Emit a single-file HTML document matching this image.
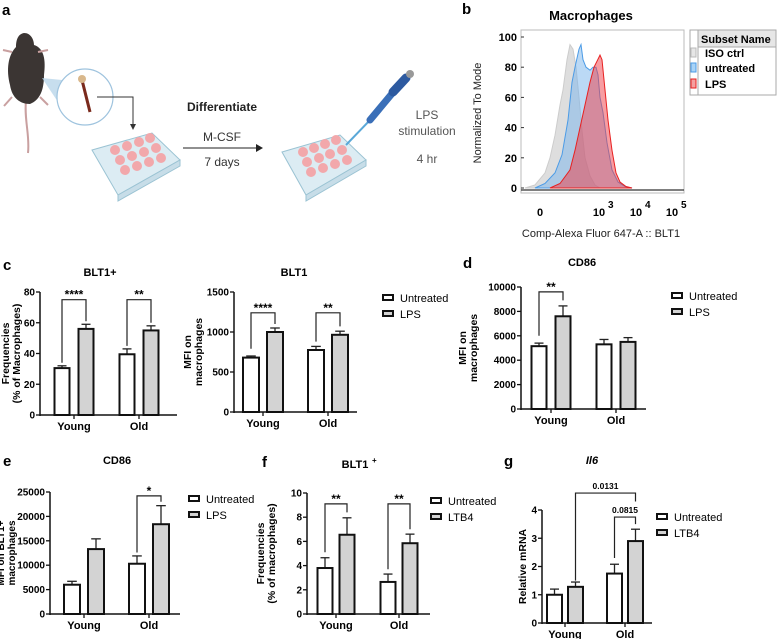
<!DOCTYPE html>
<html><head><meta charset="utf-8"><style>
html,body{margin:0;padding:0;background:#fff;}
svg{display:block;font-family:"Liberation Sans",Arial,sans-serif;}
.b{font-weight:bold}
</style></head><body>
<svg id="fig" width="778" height="639" viewBox="0 0 778 639" xmlns="http://www.w3.org/2000/svg">
<g font-weight="bold" font-size="15">
<text x="2" y="15">a</text>
<text x="462" y="14">b</text>
<text x="3" y="270">c</text>
<text x="463" y="268">d</text>
<text x="3" y="466">e</text>
<text x="262" y="467">f</text>
<text x="504" y="466">g</text>
</g>
<g>
<path d="M26 100 C24 120 30 135 28 153" stroke="#c9a0a0" stroke-width="2" fill="none"/>
<path d="M24 33 C31 33 34 40 34 45 C44 48 46 60 44 75 C44 90 40 100 30 104 C20 104 12 98 10 85 C6 70 8 55 16 47 C16 40 18 34 24 33 Z" fill="#3b3533"/>
<path d="M12 52 L3 50 M38 52 L48 50 M12 97 L4 106 M40 97 L48 105" stroke="#c9a0a0" stroke-width="2"/>
<polygon points="42,78 62,80 62,108" fill="#b9d6ea" opacity="0.8"/>
<circle cx="85" cy="97" r="28" fill="#fff" stroke="#9ec3de" stroke-width="1.2"/>
<path d="M82 80 L90 112" stroke="#7a2a1c" stroke-width="3"/>
<circle cx="82" cy="79" r="4" fill="#d9b88c"/>
<path d="M97 97 L133 97 L133 125" stroke="#333" stroke-width="1" fill="none"/>
<polygon points="130,124 136,124 133,130" fill="#333"/>
<g>
<polygon points="92,150 152,133 180,160 118,195" fill="#dcecf3" stroke="#9bc3d3"/>
<polygon points="118,195 180,160 180,166 118,201" fill="#c7dde8" stroke="#9bc3d3"/>
<g fill="#f2a8ab"><circle cx="115" cy="150" r="5"/><circle cx="127" cy="146" r="5"/><circle cx="139" cy="142" r="5"/><circle cx="150" cy="138" r="5"/><circle cx="120" cy="160" r="5"/><circle cx="132" cy="156" r="5"/><circle cx="144" cy="152" r="5"/><circle cx="156" cy="148" r="5"/><circle cx="125" cy="170" r="5"/><circle cx="137" cy="166" r="5"/><circle cx="149" cy="162" r="5"/><circle cx="161" cy="158" r="5"/></g>
</g>
<text x="222" y="111" class="b" font-size="12" text-anchor="middle" fill="#222">Differentiate</text>
<text x="222" y="141" font-size="12" text-anchor="middle" fill="#333">M-CSF</text>
<path d="M183 148 L257 148" stroke="#222" stroke-width="1"/>
<polygon points="256,144 263,148 256,152" fill="#222"/>
<text x="222" y="166" font-size="12" text-anchor="middle" fill="#333">7 days</text>
<g>
<polygon points="282,152 340,135 366,160 306,195" fill="#dcecf3" stroke="#9bc3d3"/>
<polygon points="306,195 366,160 366,166 306,201" fill="#c7dde8" stroke="#9bc3d3"/>
<g fill="#f2a8ab"><circle cx="303" cy="152" r="5"/><circle cx="314" cy="148" r="5"/><circle cx="325" cy="144" r="5"/><circle cx="336" cy="140" r="5"/><circle cx="307" cy="162" r="5"/><circle cx="319" cy="158" r="5"/><circle cx="330" cy="154" r="5"/><circle cx="342" cy="150" r="5"/><circle cx="311" cy="172" r="5"/><circle cx="323" cy="168" r="5"/><circle cx="335" cy="164" r="5"/><circle cx="347" cy="160" r="5"/></g>
</g>
<path d="M346 145 L372 118" stroke="#5aa8d8" stroke-width="2"/>
<path d="M370 120 L395 90" stroke="#3a6fb8" stroke-width="7" stroke-linecap="round"/>
<path d="M393 92 L406 78" stroke="#2d5aa0" stroke-width="9" stroke-linecap="round"/>
<circle cx="410" cy="74" r="4" fill="#999"/>
<text x="427" y="119" font-size="12" text-anchor="middle" fill="#555">LPS</text>
<text x="427" y="135" font-size="12" text-anchor="middle" fill="#555">stimulation</text>
<text x="427" y="163" font-size="12" text-anchor="middle" fill="#555">4 hr</text>
</g>
<g id="hist"></g>
<g id="charts"></g>
</svg>
<script>
// ---------- histogram data (panel b) ----------
const histChannels = [0, 163];
const isoX = [4,14,24,29,34,39,42,46,49,52,55,58,61,64,69,74,79];
const isoY = [0,2,10,20,35,55,65,85,95,92,80,60,38,20,8,2,0];
const untX = [14,24,34,41,47,51,54,58,60,62,65,69,72,75,77,79,82,86,91,97,104,111];
const untY = [0,3,10,22,45,70,80,92,95,85,80,78,80,80,75,60,50,30,12,4,1,0];
const lpsX = [29,39,49,54,59,64,69,73,76,79,81,84,87,91,95,99,105,111];
const lpsY = [0,3,12,25,40,55,70,80,84,88,85,65,45,25,10,4,1,0];
const histYTicks = [0,20,40,60,80,100];

// ---------- bar chart data ----------
const groups = ["Young","Old"];
const c1Untreated = [30.5, 39.5], c1UntreatedErr = [32, 43];
const c1LPS = [56, 55], c1LPSErr = [59, 58];
const c1Ticks = [0,20,40,60,80];
const c2Untreated = [680, 775], c2UntreatedErr = [700, 820];
const c2LPS = [1000, 965], c2LPSErr = [1050, 1010];
const c2Ticks = [0,500,1000,1500];
const dUntreated = [5150, 5300], dUntreatedErr = [5400, 5700];
const dLPS = [7600, 5500], dLPSErr = [8450, 5850];
const dTicks = [0,2000,4000,6000,8000,10000];
const eUntreated = [6000, 10300], eUntreatedErr = [6700, 11900];
const eLPS = [13300, 18400], eLPSErr = [15400, 22200];
const eTicks = [0,5000,10000,15000,20000,25000];
const fUntreated = [3.8, 2.65], fUntreatedErr = [4.65, 3.3];
const fLTB4 = [6.55, 5.85], fLTB4Err = [7.95, 6.6];
const fTicks = [0,2,4,6,8,10];
const gUntreated = [1.0, 1.75], gUntreatedErr = [1.2, 2.08];
const gLTB4 = [1.28, 2.9], gLTB4Err = [1.45, 3.32];
const gTicks = [0,1,2,3,4];

const NS="http://www.w3.org/2000/svg";
function mk(parent, tag, attrs, txt){const e=document.createElementNS(NS,tag);for(const k in attrs)e.setAttribute(k,attrs[k]);if(txt!==undefined)e.textContent=txt;parent.appendChild(e);return e;}

// ---- histogram ----
(function(){
  const g=document.getElementById('hist');
  const L=521,R=684,T=30,B=193,y0=188,y100=37;
  const sx=v=>L+(v-histChannels[0])/(histChannels[1]-histChannels[0])*(R-L);
  const sy=v=>y0+(y100-y0)*v/100;
  const t=mk(g,'text',{x:591,y:20,'font-size':13,'font-weight':'bold','text-anchor':'middle'},'Macrophages');
  
  
  const box=mk(g,'rect',{x:L,y:T,width:R-L,height:B-T,fill:'#fff',stroke:'#bbb'});
  
  
  function area(xs,ys,fill,stroke,name){
    let d='M'+sx(xs[0])+' '+sy(0);
    for(let i=0;i<xs.length;i++)d+=' L'+sx(xs[i]).toFixed(1)+' '+sy(ys[i]).toFixed(1);
    d+=' L'+sx(xs[xs.length-1])+' '+sy(0)+'Z';
    const p=mk(g,'path',{d:d,fill:fill,stroke:stroke,'stroke-width':1});
    
    
  }
  area(isoX,isoY,'rgba(200,200,200,0.6)','#ccc','iso-ctrl-histogram');
  area(untX,untY,'rgba(120,180,235,0.5)','#4b9be6','untreated-histogram');
  area(lpsX,lpsY,'rgba(240,60,70,0.5)','#e82020','lps-histogram');
  mk(g,'line',{x1:L,y1:B-3,x2:R,y2:B-3,stroke:'#333','stroke-width':1.2});
  histYTicks.forEach(v=>{
    const tx=mk(g,'text',{x:L-4,y:sy(v)+4,'font-size':11,'font-weight':'bold','text-anchor':'end'},String(v));
    
    
    mk(g,'line',{x1:L,x2:L+3,y1:sy(v),y2:sy(v),stroke:'#333'});
  });
  const xl=[["0",540,""],["10",599,"3"],["10",636,"4"],["10",672,"5"]];
  xl.forEach(a=>{const tx=mk(g,'text',{x:a[1],y:216,'font-size':11,'font-weight':'bold','text-anchor':'middle'},a[0]);
    
    
    if(a[2])mk(g,'text',{x:a[1]+9,y:208,'font-size':10,'font-weight':'bold'},a[2]);});
  const xt=mk(g,'text',{x:601,y:237,'font-size':11,'text-anchor':'middle',fill:'#222'},'Comp-Alexa Fluor 647-A :: BLT1');
  
  
  const yt=mk(g,'text',{x:0,y:0,'font-size':11,'text-anchor':'middle',transform:'translate(481,113) rotate(-90)',fill:'#222'},'Normalized To Mode');
  
  
  const lg=mk(g,'g',{});
  
  
  mk(lg,'rect',{x:690,y:30,width:86,height:65,fill:'#fff',stroke:'#aaa'});
  mk(lg,'rect',{x:698,y:30,width:78,height:17,fill:'#e6e6e6',stroke:'#aaa'});
  mk(lg,'line',{x1:698,y1:30,x2:698,y2:95,stroke:'#aaa'});
  mk(lg,'text',{x:701,y:43,'font-size':11,'font-weight':'bold'},'Subset Name');
  [['ISO ctrl','#e6e6e6','#bbb',57],['untreated','#a9d3f6','#4b9be6',72],['LPS','#f5a0a0','#e82020',88]].forEach(r=>{
    mk(lg,'rect',{x:691,y:r[3]-9,width:5,height:9,fill:r[1],stroke:r[2]});
    const tx=mk(lg,'text',{x:705,y:r[3],'font-size':11,'font-weight':'bold'},r[0]);
    
    
  });
})();

// ---- bar charts ----
function barChart(cfg){
  const root=document.getElementById('charts');
  const g=mk(root,'g',{});
  
  
  const max=cfg.ticks[cfg.ticks.length-1];
  const sy=v=>cfg.y0+(cfg.yTop-cfg.y0)*v/max;
  const sx=(gi,si)=>cfg.centers[gi]+(si===0?-cfg.off:cfg.off);
  const tt=mk(g,'text',{x:cfg.title[1],y:cfg.title[2],'font-size':11,'font-weight':'bold','text-anchor':'middle','font-style':cfg.italic?'italic':'normal'},cfg.title[0]);
  
  
  if(cfg.sup){mk(g,'text',{x:cfg.title[1]+17,y:cfg.title[2]-5,'font-size':8,'font-weight':'bold'},'+');}
  const series=[[cfg.s0,cfg.e0,'#fff'],[cfg.s1,cfg.e1,'#d3d3d3']];
  series.forEach((s,si)=>{
    s[0].forEach((v,gi)=>{
      const cx=sx(gi,si),w=cfg.bw;
      const top=sy(v),et=sy(s[1][gi]);
      const el=mk(g,'line',{x1:cx,x2:cx,y1:top,y2:et,stroke:'#222','stroke-width':1.3});
      
      
      mk(g,'line',{x1:cx-w*0.3,x2:cx+w*0.3,y1:et,y2:et,stroke:'#222','stroke-width':1.3});
      const r=mk(g,'rect',{x:cx-w/2,y:top,width:w,height:cfg.y0-top,fill:s[2],stroke:'#111','stroke-width':2});
      
      
    });
  });
  const ya=mk(g,'line',{x1:cfg.x0,x2:cfg.x0,y1:cfg.yTop,y2:cfg.y0+1,stroke:'#111','stroke-width':1.5});
  
  
  const xa=mk(g,'line',{x1:cfg.x0,x2:cfg.x1,y1:cfg.y0,y2:cfg.y0,stroke:'#111','stroke-width':1.5});
  
  
  cfg.ticks.forEach(v=>{
    mk(g,'line',{x1:cfg.x0-4,x2:cfg.x0,y1:sy(v),y2:sy(v),stroke:'#111','stroke-width':1.3});
    const tx=mk(g,'text',{x:cfg.x0-5,y:sy(v)+3.5,'font-size':10,'font-weight':'bold','text-anchor':'end'},String(v));
    
    
  });
  groups.forEach((n,gi)=>{
    mk(g,'line',{x1:cfg.centers[gi],x2:cfg.centers[gi],y1:cfg.y0,y2:cfg.y0+4,stroke:'#111','stroke-width':1.3});
    const tx=mk(g,'text',{x:cfg.centers[gi],y:cfg.y0+15,'font-size':11,'font-weight':'bold','text-anchor':'middle'},n);
    
    
  });
  const yt=mk(g,'text',{x:0,y:0,'font-size':cfg.ytSize||10.5,'font-weight':'bold','text-anchor':'middle',transform:'translate('+cfg.yt[0]+','+((cfg.yTop+cfg.y0)/2)+') rotate(-90)'});
  
  
  cfg.yt[1].forEach((line,i)=>{mk(yt,'tspan',{x:0,dy:i?11:(cfg.yt[1].length>1?-5:0)},line);});
  (cfg.brackets||[]).forEach(b=>{
    const xa_=sx(b.from[0],b.from[1]);
    const xb_=sx(b.to[0],b.to[1]);
    const top=sy(b.top);
    const p=mk(g,'path',{d:'M'+xa_+' '+sy(b.l)+' L'+xa_+' '+top+' L'+xb_+' '+top+' L'+xb_+' '+sy(b.r),fill:'none',stroke:'#222','stroke-width':1.2});
    
    
    const tx=mk(g,'text',{x:(xa_+xb_)/2,y:top-(b.p?4:1),'font-size':b.p?8.5:12,'font-weight':'bold','text-anchor':'middle'},b.label);
    
    
  });
  if(cfg.legend){
    const lg=mk(g,'g',{});
    
    
    [['Untreated','#fff'],[cfg.l1,'#d3d3d3']].forEach((e,i)=>{
      const y=cfg.legend[1]+i*16;
      mk(lg,'rect',{x:cfg.legend[0],y:y-7,width:10,height:5,fill:e[1],stroke:'#111','stroke-width':2});
      const tx=mk(lg,'text',{x:cfg.legend[0]+17,y:y,'font-size':11},e[0]);
      
      
    });
  }
}
barChart({name:'chart-c-blt1-frequency',x0:40,x1:177,yTop:292,y0:415,ticks:c1Ticks,centers:[74,139],off:12,bw:15,
  s0:c1Untreated,e0:c1UntreatedErr,s1:c1LPS,e1:c1LPSErr,l1:'LPS',title:['BLT1+',100,276],yt:[14,['Frequencies','(% of Macrophages)']],
  brackets:[{from:[0,0],to:[0,1],top:75,l:34,r:61,label:'****'},{from:[1,0],to:[1,1],top:75,l:45,r:60,label:'**'}]});
barChart({name:'chart-c-blt1-mfi',x0:234,x1:357,yTop:292,y0:412,ticks:c2Ticks,centers:[263,328],off:12,bw:16,
  s0:c2Untreated,e0:c2UntreatedErr,s1:c2LPS,e1:c2LPSErr,l1:'LPS',title:['BLT1',294,276],yt:[196,['MFI on','macrophages']],
  legend:[383,302],
  brackets:[{from:[0,0],to:[0,1],top:1240,l:790,r:1100,label:'****'},{from:[1,0],to:[1,1],top:1240,l:880,r:1070,label:'**'}]});
barChart({name:'chart-d-cd86-mfi',x0:521,x1:646,yTop:287,y0:409,ticks:dTicks,centers:[551,616],off:12,bw:15,
  s0:dUntreated,e0:dUntreatedErr,s1:dLPS,e1:dLPSErr,l1:'LPS',title:['CD86',582,266],yt:[471,['MFI on','macrophages']],
  legend:[672,300],
  brackets:[{from:[0,0],to:[0,1],top:9600,l:6000,r:8900,label:'**'}]});
barChart({name:'chart-e-cd86-blt1',x0:50,x1:180,yTop:492,y0:614,ticks:eTicks,centers:[84,149],off:12,bw:16,ytSize:10,
  s0:eUntreated,e0:eUntreatedErr,s1:eLPS,e1:eLPSErr,l1:'LPS',title:['CD86',117,464],yt:[9,['MFI on BLT1+','macrophages']],
  legend:[189,503],
  brackets:[{from:[1,0],to:[1,1],top:24200,l:12600,r:23000,label:'*'}]});
barChart({name:'chart-f-blt1-ltb4',x0:307,x1:430,yTop:493,y0:614,ticks:fTicks,centers:[336,399],off:11,bw:15,
  s0:fUntreated,e0:fUntreatedErr,s1:fLTB4,e1:fLTB4Err,l1:'LTB4',title:['BLT1',355,468],sup:true,yt:[269,['Frequencies','(% of macrophages)']],
  legend:[431,505],
  brackets:[{from:[0,0],to:[0,1],top:9.1,l:5.1,r:8.4,label:'**'},{from:[1,0],to:[1,1],top:9.1,l:3.7,r:7.0,label:'**'}]});
barChart({name:'chart-g-il6',x0:542,x1:652,yTop:510,y0:623,ticks:gTicks,centers:[565,625],off:10.5,bw:15,
  s0:gUntreated,e0:gUntreatedErr,s1:gLTB4,e1:gLTB4Err,l1:'LTB4',title:['Il6',592,464],italic:true,yt:[526,['Relative mRNA']],
  legend:[657,521],
  brackets:[{from:[0,1],to:[1,1],top:4.6,l:1.5,r:4.3,label:'0.0131',p:true},{from:[1,0],to:[1,1],top:3.75,l:2.3,r:3.5,label:'0.0815',p:true}]});
</script>
</body></html>
